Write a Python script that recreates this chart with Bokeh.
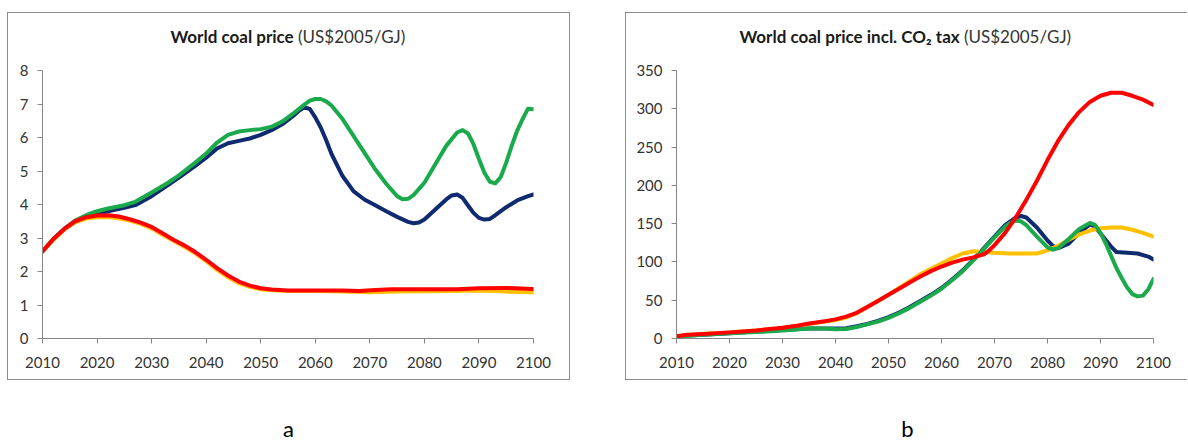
from bokeh.plotting import figure
from bokeh.models import Range1d, FixedTicker, Label
from bokeh.layouts import row, column
from bokeh.embed import file_html
from bokeh.resources import INLINE

# ---------------- shared ticks ----------------
x_ticks = [2010, 2020, 2030, 2040, 2050, 2060, 2070, 2080, 2090, 2100]
ya_ticks = [0, 1, 2, 3, 4, 5, 6, 7, 8]
yb_ticks = [0, 50, 100, 150, 200, 250, 300, 350]

# ---------------- panel a: World coal price (US$2005/GJ) ----------------
a_navy_years = [2010, 2012, 2014, 2016, 2018, 2020, 2022, 2025, 2027, 2030, 2033, 2035, 2038, 2040, 2042,
                2044, 2046, 2048, 2050, 2052, 2054, 2056, 2057, 2058, 2059, 2060, 2061, 2062, 2063, 2065,
                2067, 2069, 2071, 2073, 2075, 2077, 2078, 2079, 2080, 2082, 2084, 2085, 2086, 2087, 2088,
                2089, 2090, 2091, 2092, 2093, 2095, 2097, 2099, 2100]
a_navy = [2.60, 2.97, 3.27, 3.50, 3.64, 3.72, 3.80, 3.90, 3.98, 4.25, 4.58, 4.80, 5.15, 5.40, 5.67,
          5.83, 5.90, 5.97, 6.08, 6.22, 6.40, 6.65, 6.80, 6.90, 6.85, 6.60, 6.30, 5.92, 5.50, 4.85,
          4.40, 4.15, 3.98, 3.80, 3.63, 3.48, 3.44, 3.46, 3.55, 3.85, 4.15, 4.27, 4.30, 4.20, 3.97,
          3.75, 3.60, 3.55, 3.57, 3.68, 3.92, 4.12, 4.25, 4.30]

a_green_years = [2010, 2012, 2014, 2016, 2018, 2020, 2022, 2025, 2027, 2030, 2033, 2035, 2038, 2040, 2042,
                 2044, 2046, 2048, 2050, 2052, 2054, 2056, 2058, 2059, 2060, 2061, 2062, 2063, 2065, 2067,
                 2069, 2071, 2073, 2075, 2076, 2077, 2078, 2080, 2082, 2084, 2086, 2087, 2088, 2089, 2090,
                 2091, 2092, 2093, 2094, 2095, 2096, 2097, 2098, 2099, 2100]
a_green = [2.60, 2.97, 3.27, 3.52, 3.68, 3.80, 3.88, 3.98, 4.08, 4.36, 4.65, 4.87, 5.25, 5.52, 5.85,
           6.08, 6.18, 6.22, 6.25, 6.32, 6.48, 6.72, 6.98, 7.10, 7.15, 7.15, 7.08, 6.95, 6.55, 6.05,
           5.55, 5.05, 4.62, 4.25, 4.16, 4.17, 4.28, 4.65, 5.20, 5.75, 6.15, 6.22, 6.12, 5.80, 5.36,
           4.95, 4.68, 4.63, 4.82, 5.25, 5.75, 6.20, 6.55, 6.86, 6.84]

a_yellow_years = [2010, 2012, 2014, 2016, 2018, 2020, 2022, 2024, 2026, 2028, 2030, 2032, 2034, 2036, 2038,
                  2040, 2042, 2044, 2046, 2048, 2050, 2052, 2055, 2060, 2065, 2070, 2075, 2080, 2085, 2090,
                  2095, 2100]
a_yellow = [2.60, 2.95, 3.25, 3.47, 3.58, 3.62, 3.63, 3.59, 3.52, 3.42, 3.29, 3.10, 2.92, 2.74, 2.54,
            2.31, 2.05, 1.83, 1.65, 1.54, 1.47, 1.44, 1.42, 1.42, 1.40, 1.38, 1.40, 1.41, 1.42, 1.43,
            1.40, 1.38]

a_red_years = [2010, 2012, 2014, 2016, 2018, 2020, 2022, 2024, 2026, 2028, 2030, 2032, 2034, 2036, 2038,
               2040, 2042, 2044, 2046, 2048, 2050, 2052, 2055, 2060, 2065, 2068, 2071, 2074, 2080, 2086,
               2090, 2095, 2100]
a_red = [2.60, 2.97, 3.27, 3.50, 3.62, 3.67, 3.68, 3.64, 3.56, 3.46, 3.33, 3.14, 2.95, 2.78, 2.58,
         2.35, 2.10, 1.88, 1.70, 1.58, 1.50, 1.46, 1.43, 1.43, 1.43, 1.42, 1.45, 1.47, 1.47, 1.47,
         1.50, 1.51, 1.48]

# ---------------- panel b: World coal price incl. CO2 tax (US$2005/GJ) ----------------
b_navy_years = [2010, 2015, 2020, 2025, 2030, 2035, 2040, 2042, 2044, 2046, 2048, 2050, 2052, 2054, 2056,
                2058, 2060, 2062, 2064, 2066, 2068, 2070, 2072, 2074, 2075, 2076, 2078, 2080, 2081, 2082,
                2084, 2086, 2088, 2089, 2090, 2092, 2093, 2095, 2097, 2099, 2100]
b_navy = [3, 5, 7, 9, 11, 13, 13, 13.5, 16, 19, 23, 28, 34, 41, 49,
          57, 66, 77, 89, 103, 118, 133, 148, 158, 160, 158, 145, 128, 121, 118,
          124, 138, 149, 146, 137, 120, 113, 112, 111, 107, 103]

b_green_years = [2010, 2015, 2020, 2025, 2030, 2035, 2038, 2040, 2042, 2044, 2046, 2048, 2050, 2052, 2054,
                 2056, 2058, 2060, 2062, 2064, 2066, 2068, 2070, 2072, 2073, 2074, 2075, 2076, 2078, 2080,
                 2081, 2082, 2084, 2086, 2088, 2089, 2090, 2091, 2092, 2093, 2094, 2095, 2096, 2097, 2098,
                 2099, 2100]
b_green = [3, 5, 7, 8.5, 10.5, 13, 13, 12, 12.5, 15, 18.5, 22, 27, 33, 40,
           48, 56, 65, 76, 88, 102, 117, 132, 146, 151, 154, 153, 148, 133, 119,
           116, 118, 130, 143, 151, 148, 138, 124, 108, 92, 79, 67, 58, 55, 56,
           64, 78]

b_yellow_years = [2010, 2015, 2020, 2025, 2030, 2035, 2040, 2042, 2044, 2046, 2048, 2050, 2052, 2054, 2056,
                  2058, 2060, 2062, 2064, 2066, 2068, 2070, 2073, 2076, 2078, 2080, 2082, 2084, 2086, 2088,
                  2090, 2092, 2094, 2096, 2098, 2100]
b_yellow = [3, 6, 8, 10.5, 13.5, 19, 24, 27.5, 33, 41, 49, 57, 66, 75, 84,
            91, 98, 105, 111, 114, 113, 112, 111, 111, 111, 115, 121, 129, 136, 141,
            144, 145, 145, 142, 138, 133]

b_red_years = [2010, 2012, 2015, 2020, 2025, 2030, 2033, 2035, 2038, 2040, 2042, 2044, 2046, 2048, 2050,
               2052, 2054, 2056, 2058, 2060, 2062, 2064, 2066, 2068, 2069, 2070, 2072, 2074, 2076, 2078,
               2080, 2082, 2084, 2086, 2088, 2090, 2092, 2094, 2096, 2098, 2100]
b_red = [3, 5, 6, 8, 10.5, 14, 17, 19.5, 22.5, 25, 28.5, 33.5, 41, 49, 57,
         65, 73, 81, 88, 94, 99, 103, 106, 110, 115, 122, 138, 158, 181, 206,
         233, 258, 279, 296, 309, 317, 321, 321, 317, 312, 305]

NAVY = "#0f2a6e"
GREEN = "#1aaa4c"
YELLOW = "#ffc000"
RED = "#ff0000"
AXIS = "#868686"
BOX = "#8c8c8c"
FONT = "Lato"


def main_fig(width, height, mbl, mbr, ymax, yticks):
    p = figure(width=width, height=height, x_range=Range1d(2010, 2100), y_range=Range1d(0, ymax),
               output_backend="svg", toolbar_location=None,
               min_border_left=mbl, min_border_right=mbr, min_border_top=17, min_border_bottom=41)
    p.outline_line_color = None
    p.grid.visible = False
    p.xaxis.ticker = FixedTicker(ticks=x_ticks)
    p.yaxis.ticker = FixedTicker(ticks=yticks)
    for ax in (p.xaxis, p.yaxis):
        ax.axis_line_color = AXIS
        ax.major_tick_line_color = AXIS
        ax.minor_tick_line_color = None
        ax.major_tick_in = 0
        ax.major_tick_out = 5
        ax.major_label_text_font = FONT
        ax.major_label_text_font_size = "15px"
        ax.major_label_text_color = "#333333"
    p.xaxis.major_label_standoff = 13
    p.yaxis.major_label_standoff = 9
    return p


def add_lines(p, series):
    for xs, ys, c in series:
        p.line(xs, ys, line_color=c, line_width=4, line_cap="round", line_join="round")


def title_fig(width, bold, normal, split):
    t = figure(width=width, height=40, x_range=Range1d(0, width), y_range=Range1d(0, 40),
               output_backend="svg", toolbar_location=None,
               x_axis_location=None, y_axis_location=None,
               min_border_left=0, min_border_right=0, min_border_top=0, min_border_bottom=0)
    t.outline_line_color = None
    t.grid.visible = False
    t.add_layout(Label(x=split, y=17, text=bold, text_font=FONT, text_font_style="bold",
                       text_font_size="17px", text_color="#1a1a1a",
                       text_align="right", text_baseline="middle"))
    t.add_layout(Label(x=split + 5, y=17, text=normal, text_font=FONT,
                       text_font_size="17px", text_color="#333333",
                       text_align="left", text_baseline="middle"))
    return t


border_all = {"border": f"1px solid {BOX}"}
border_b = {"border-left": f"1px solid {BOX}", "border-top": f"1px solid {BOX}",
            "border-bottom": f"1px solid {BOX}"}

# panel a
t1 = title_fig(561, "World coal price", "(US$2005/GJ)", 287)
p1 = main_fig(561, 326, 34, 36, 8, ya_ticks)
add_lines(p1, [(a_navy_years, a_navy, NAVY), (a_green_years, a_green, GREEN),
               (a_yellow_years, a_yellow, YELLOW), (a_red_years, a_red, RED)])
c1 = column(t1, p1, spacing=0, styles=border_all, margin=(12, 0, 0, 7))

# panel b
t2 = title_fig(561, "World coal price incl. CO\u2082 tax", "(US$2005/GJ)", 333)
p2 = main_fig(561, 326, 50, 34, 350, yb_ticks)
add_lines(p2, [(b_navy_years, b_navy, NAVY), (b_yellow_years, b_yellow, YELLOW),
               (b_green_years, b_green, GREEN), (b_red_years, b_red, RED)])
c2 = column(t2, p2, spacing=0, styles=border_b, margin=(12, 0, 0, 0))

# panel letters
f3 = figure(width=1187, height=62, x_range=Range1d(0, 1187), y_range=Range1d(0, 62),
            output_backend="svg", toolbar_location=None,
            x_axis_location=None, y_axis_location=None,
            min_border_left=0, min_border_right=0, min_border_top=0, min_border_bottom=0)
f3.outline_line_color = None
f3.grid.visible = False
for lx, lt in ((288, "a"), (907, "b")):
    f3.add_layout(Label(x=lx, y=14, text=lt, text_font=FONT, text_font_size="22px",
                        text_color="#000000", text_align="center", text_baseline="middle"))

layout = column(row(c1, c2, spacing=55), f3, spacing=0)

open("out.html", "w").write(file_html(layout, INLINE))
